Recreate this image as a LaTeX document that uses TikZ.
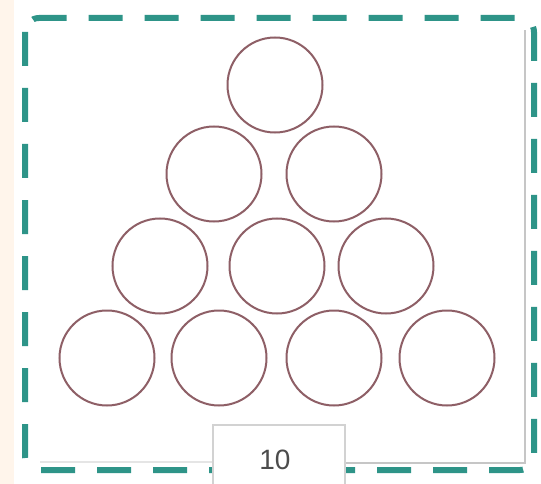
\documentclass[tikz,border=0pt]{standalone}
\usepackage{fontspec}
\setmainfont{Liberation Sans}
\begin{document}
\begin{tikzpicture}[x=1pt,y=-1pt,
  ring/.style={circle,draw=ringcol,line width=2pt,minimum size=95pt,inner sep=0pt},
  dashframe/.style={draw=teal2,line width=6pt,dash pattern=on 34pt off 22pt,rounded corners=14pt},
  pageedge/.style={draw=gray!45,line width=1.2pt},
  labelbox/.style={draw=gray!35,line width=1.5pt,fill=white}]
\definecolor{ringcol}{HTML}{8E5F66}
\definecolor{teal2}{HTML}{2E9488}
\useasboundingbox (0,0) rectangle (541,484);
\fill[white] (0,0) rectangle (541,484);
\fill[orange!8] (0,0) rectangle (14,484);
% page edge
\draw[pageedge] (345,463) -- (525,463) -- (525,30);
\draw[pageedge,gray!20] (40,462) -- (213,462);
% dashed frame
\draw[dashframe] (25,18) rectangle (534,470);
% circles
\node[ring] (c1) at (275,85) {};
\node[ring] (c2) at (214,174) {};
\node[ring] (c3) at (334,174) {};
\node[ring] (c4) at (160,266) {};
\node[ring] (c5) at (277,266) {};
\node[ring] (c6) at (386,266) {};
\node[ring] (c7) at (107,358) {};
\node[ring] (c8) at (219,358) {};
\node[ring] (c9) at (334,358) {};
\node[ring] (c10) at (447,358) {};
% label box
\path[labelbox] (213,500) -- (213,425) -- (345,425) -- (345,500);
\node[anchor=north,font=\fontsize{28}{28}\selectfont,text=black!70,inner sep=0pt] (lab) at (275,450) {10};
\end{tikzpicture}
\end{document}
